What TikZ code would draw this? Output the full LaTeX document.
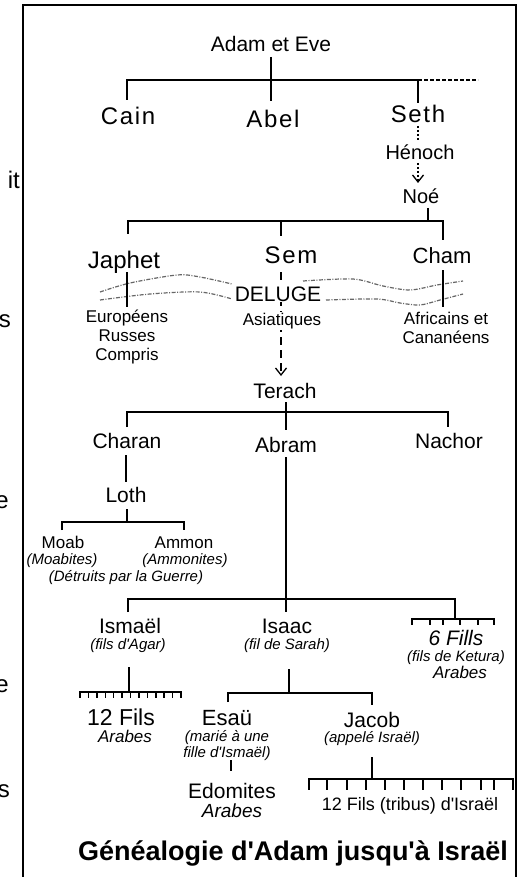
\documentclass[tikz,border=0pt]{standalone}
\usepackage{fontspec}
\setmainfont{Liberation Sans}
\newfontfamily\spaced[LetterSpace=7]{Liberation Sans}
\usetikzlibrary{arrows.meta}
\newcommand\fsz[2]{\fontsize{#1}{#2}\selectfont}
\newcommand\ap{\textquotesingle}
\begin{document}
\begin{tikzpicture}[x=1pt,y=-1pt,
  nm/.style={anchor=base, inner sep=0pt, font=\fsz{21}{25}},
  big/.style={anchor=base, inner sep=0pt, font={\spaced\fsz{24}{28}}},
  sm/.style={anchor=base, inner sep=0pt, font=\fsz{17}{20}},
  it/.style={anchor=base, inner sep=0pt, font={\itshape\fsz{15}{18}}},
  cut/.style={anchor=base east, inner sep=0pt, font=\fsz{24}{28}},
  tree/.style={line width=1.8pt},
  comb/.style={line width=1.5pt},
  dots/.style={line width=1.4pt, dash pattern=on 2pt off 2pt},
  wave/.style={gray!80!black, line width=1.2pt, dash pattern=on 4pt off 1.5pt on 1pt off 1.5pt},
  vtip/.style={-{Straight Barb[length=7pt,width=11pt,line width=1.3pt]}}]
\useasboundingbox (0,0) rectangle (531,877);
\clip (0,0) rectangle (531,877);
\fill[white] (0,0) rectangle (531,877);
\draw[line width=2pt] (23,5) rectangle (516,895);

% cut-off texts at the left
\node[cut] (c1) at (20,189) {it};
\node[cut] (c2) at (11,327) {s};
\node[cut] (c3) at (9,508) {e};
\node[cut] (c4) at (9,692) {e};
\node[cut] (c5) at (10,797) {s};

% Adam
\node[nm] (adam) at (271,52) {Adam et Eve};
\coordinate (b1l) at (127,80);
\coordinate (b1m) at (271,80);
\coordinate (b1r) at (418,80);
\coordinate (b1e) at (478,80);
\draw[tree] (271,57) -- (b1m);
\draw[tree] (127,100) -- (b1l) -- (b1r) -- (418,103);
\draw[tree] (b1m) -- (271,101);
\draw[line width=1.6pt, dash pattern=on 4pt off 2pt] (b1r) -- (b1e);

\node[big] (cain) at (128,125) {Cain};
\node[big] (abel) at (273,128) {Abel};
\node[big] (seth) at (418,123) {Seth};
\node[nm, font=\fsz{20}{24}] (henoch) at (420,160) {Hénoch};
\node[nm, font=\fsz{20}{24}] (noe) at (421,204) {Noé};
\draw[dots] (418,126) -- (418,141);
\draw[dots, vtip] (418,163) -- (418,183);

% Noe's sons
\coordinate (b2l) at (128,221);
\coordinate (b2n) at (428,221);
\coordinate (b2r) at (443,221);
\draw[tree] (428,208) -- (b2n);
\draw[tree] (128,234) -- (b2l) -- (b2r) -- (443,240);
\draw[tree] (281,221) -- (281,236);

\node[nm, font=\fsz{24}{28}] (japhet) at (124,268) {Japhet};
\node[big] (sem) at (291,263) {Sem};
\node[nm, font=\fsz{22}{26}] (cham) at (442,263) {Cham};

% Deluge waves
\draw[wave] plot[smooth] coordinates {(100,292) (130,283) (177,275) (200,277) (232,284)};
\draw[wave] plot[smooth] coordinates {(303,281) (353,279) (383,286) (410,290) (437,285) (463,281)};
\draw[wave] plot[smooth] coordinates {(100,300) (150,294) (200,292) (232,299)};
\draw[wave] plot[smooth] coordinates {(326,300) (377,299) (400,303) (420,305) (440,300) (463,294)};

\draw[tree] (127,272) -- (127,307);
\draw[tree] (443,270) -- (443,307);
\draw[line width=1.8pt, dash pattern=on 8pt off 5pt, vtip] (281,272) -- (281,376);

\node[nm, fill=white, inner sep=1pt, anchor=base] (deluge) at (278,301) {DELUGE};
\node[sm, fill=white, inner sep=1pt, anchor=base] (asia) at (282,325) {Asiatiques};
\node[sm] (eu1) at (127,322) {Européens};
\node[sm] (eu2) at (127,341) {Russes};
\node[sm] (eu3) at (127,360) {Compris};
\node[sm] (af1) at (446,324) {Africains et};
\node[sm] (af2) at (446,343) {Cananéens};

% Terach
\node[nm] (terach) at (285,398) {Terach};
\coordinate (b3l) at (127,412);
\coordinate (b3m) at (286,412);
\coordinate (b3r) at (448,412);
\draw[tree] (286,402) -- (b3m);
\draw[tree] (127,427) -- (b3l) -- (b3r) -- (448,427);
\draw[tree] (b3m) -- (286,430);
\node[nm] (charan) at (127,448) {Charan};
\node[nm] (abram) at (286,452) {Abram};
\node[nm] (nachor) at (449,448) {Nachor};

% Loth
\draw[tree] (126,455) -- (126,482);
\node[nm] (loth) at (126,502) {Loth};
\coordinate (b4l) at (62,522);
\coordinate (b4r) at (184,522);
\draw[tree] (127,509) -- (127,522);
\draw[tree] (62,530) -- (b4l) -- (b4r) -- (184,530);
\node[sm] (moab) at (63,548) {Moab};
\node[it] (moab2) at (62,564) {(Moabites)};
\node[sm] (ammon) at (184,548) {Ammon};
\node[it] (ammon2) at (185,564) {(Ammonites)};
\node[it] (detr) at (126,581) {(Détruits par la Guerre)};

% Abram's sons
\coordinate (b5l) at (128,599);
\coordinate (b5m) at (286,599);
\coordinate (b5r) at (455,599);
\draw[tree] (286,457) -- (b5m);
\draw[tree] (128,612) -- (b5l) -- (b5r) -- (455,619);
\draw[tree] (b5m) -- (286,612);

\node[nm] (ismael) at (130,633) {Ismaël};
\node[it] (agar) at (128,649) {(fils d\ap Agar)};
\node[nm] (isaac) at (287,633) {Isaac};
\node[it] (sarah) at (287,649) {(fil de Sarah)};

% 6 fils
\draw[comb] (412,619) -- (494,619);
\foreach \x in {412,430,443,460,478,494} \draw[comb] (\x,618.3) -- (\x,625);
\node[nm, font={\itshape\fsz{21}{25}}] (six) at (456,645) {6 Fills};
\node[it] (ketura) at (456,661) {(fils de Ketura)};
\node[sm, font={\itshape\fsz{17}{20}}] (arab1) at (460,678) {Arabes};

% 12 fils d'Ismael
\draw[tree] (129,667) -- (129,692);
\draw[comb] (80,692) -- (181,692);
\foreach \i in {0,...,12} \draw[comb] ({80+\i*8.42},691.3) -- ({80+\i*8.42},698);
\node[nm, font=\fsz{23}{27}] (fils12) at (121,725) {12 Fils};
\node[sm, font={\itshape\fsz{17}{20}}] (arab2) at (125,742) {Arabes};

% Isaac's sons
\coordinate (b6l) at (228,693);
\coordinate (b6m) at (289,693);
\coordinate (b6r) at (372,693);
\draw[tree] (289,669) -- (b6m);
\draw[tree] (228,702) -- (b6l) -- (b6r) -- (372,705);
\node[nm, font=\fsz{22}{26}] (esau) at (227,725) {Esaü};
\node[nm] (jacob) at (372,727) {Jacob};
\node[it] (esau1) at (227,741) {(marié à une};
\node[it] (esau2) at (227,757) {fille d\ap Ismaël)};
\node[it] (jac1) at (372,742) {(appelé Israël)};

\draw[tree] (231,760) -- (231,771);
\node[nm] (edom) at (232,798) {Edomites};
\node[nm, font={\itshape\fsz{19}{22}}] (arab3) at (232,817) {Arabes};

% 12 tribes
\draw[tree] (372,757) -- (372,779);
\draw[comb] (309,779) -- (514,779);
\foreach \x in {309,327,347,366,385,404,423,442,461,481,494,513} \draw[comb] (\x,778.3) -- (\x,790);
\node[nm, font=\fsz{18}{22}] (tribus) at (410,810) {12 Fils (tribus) d\ap Israël};

% title
\node[nm, font={\bfseries\fsz{27}{32}}] (title) at (293,860) {Généalogie d\ap Adam jusqu\ap à Israël};
\end{tikzpicture}
\end{document}
